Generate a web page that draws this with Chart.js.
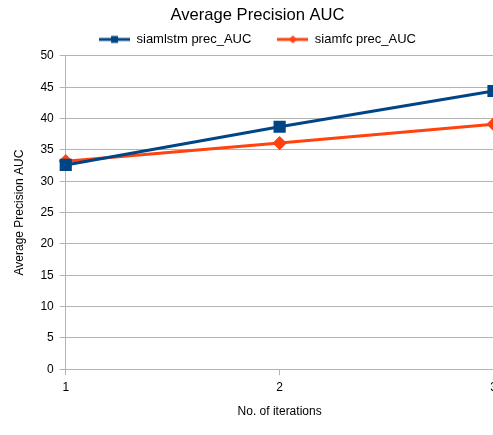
<!DOCTYPE html>
<html><head><meta charset="utf-8">
<script src="https://cdn.jsdelivr.net/npm/chart.js@4"></script>
<style>
html,body{margin:0;padding:0;background:#fff;overflow:hidden;}
#wrap{width:503px;height:435px;position:relative;}
</style></head>
<body><div id="wrap"><canvas id="c"></canvas></div>
<script>
const categories = ['1','2','3'];
const siamlstm = [32.6, 38.7, 44.4];
const siamfc = [33.2, 36.1, 39.1];
const seriesNames = ['siamlstm prec_AUC', 'siamfc prec_AUC'];
const yTicks = [0,5,10,15,20,25,30,35,40,45,50];

function legendIcon(color, shape){
  const cv = document.createElement('canvas');
  cv.width = 31; cv.height = 10;
  const g = cv.getContext('2d');
  g.strokeStyle = color; g.lineWidth = 3;
  g.beginPath(); g.moveTo(0,5); g.lineTo(31,5); g.stroke();
  g.fillStyle = color;
  if (shape==='rect'){ g.fillRect(12,1.5,7,7); }
  else { g.beginPath(); g.moveTo(15.5,1); g.lineTo(19.5,5); g.lineTo(15.5,9); g.lineTo(11.5,5); g.closePath(); g.fill(); }
  return cv;
}
const colors = ['#004586','#ff420e'];
const icons = [legendIcon(colors[0],'rect'), legendIcon(colors[1],'diamond')];

new Chart(document.getElementById('c'), {
  type: 'line',
  data: {
    labels: categories,
    datasets: [
      {label: seriesNames[0], data: siamlstm, borderColor: colors[0], backgroundColor: colors[0], borderWidth: 3, pointStyle: 'rect', pointRadius: 6.5, pointHoverRadius:6.5, tension: 0},
      {label: seriesNames[1], data: siamfc, borderColor: colors[1], backgroundColor: colors[1], borderWidth: 3, pointStyle: 'rectRot', pointRadius: 5, pointHoverRadius:5, tension: 0}
    ]
  },
  options: {
    responsive: true, maintainAspectRatio: false, animation: false,
    layout: {padding: {left: 12, right: 0, top: 2, bottom: 16}},
    plugins: {
      title: {display: true, text: 'Average Precision AUC', color: '#000', font: {family: 'Liberation Sans', size: 16.6, weight: 'normal'}, padding: {top: 3, bottom: -18}},
      legend: {position: 'top', labels: {
        color: '#000', font: {family: 'Liberation Sans', size: 13}, boxWidth: 31, boxHeight: 10, pointStyleWidth: 31, padding: 26, usePointStyle: true,
        generateLabels: (chart) => chart.data.datasets.map((d,i)=>({text: d.label, pointStyle: icons[i], fillStyle: d.borderColor, strokeStyle: d.borderColor, lineWidth: 0, datasetIndex: i, hidden: false}))
      }},
      tooltip: {enabled: false}
    },
    scales: {
      x: {
        offset: false,
        grid: {color: '#b3b3b3', drawOnChartArea: false, tickLength: 6, tickColor: '#b3b3b3'},
        border: {color: '#b3b3b3'},
        ticks: {color: '#000', font: {family: 'Liberation Sans', size: 12}, padding: 5, maxRotation: 0},
        title: {display: true, text: 'No. of iterations', color: '#000', font: {family: 'Liberation Sans', size: 12}, padding: {top: 5, bottom: 0}}
      },
      y: {
        min: 0, max: 50,
        afterBuildTicks: (ax) => { ax.ticks = yTicks.map(v=>({value: v})); },
        grid: {color: '#b3b3b3', tickLength: 6, tickColor: '#b3b3b3'},
        border: {color: '#b3b3b3'},
        ticks: {color: '#000', font: {family: 'Liberation Sans', size: 12}, padding: 6},
        title: {display: true, text: 'Average Precision AUC', color: '#000', font: {family: 'Liberation Sans', size: 12}, padding: {top: 0, bottom: 8}}
      }
    }
  }
});
</script></body></html>
